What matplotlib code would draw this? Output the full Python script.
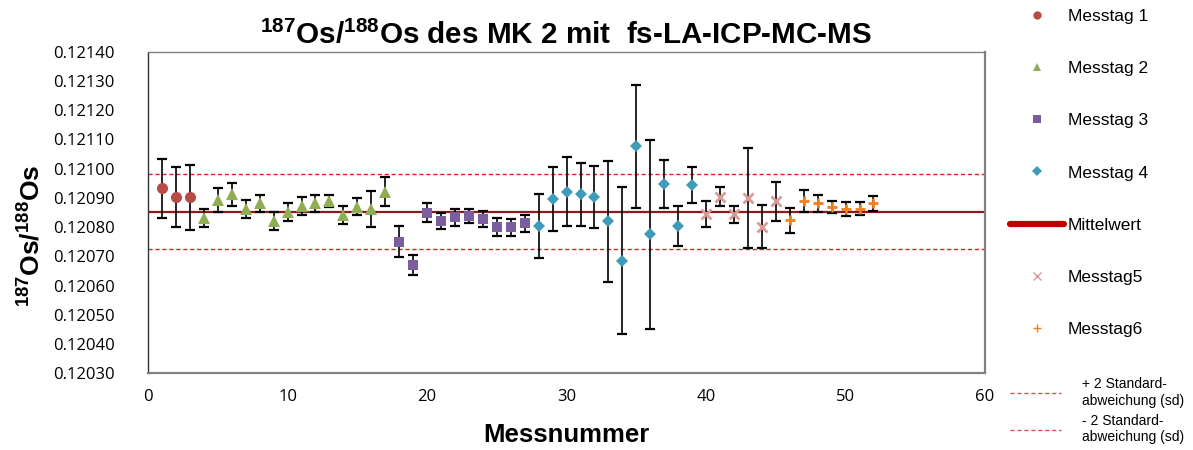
# coding: utf-8
"""187Os/188Os of MK 2 measured with fs-LA-ICP-MC-MS."""

import numpy as np
from matplotlib import pyplot as plt
from matplotlib.lines import Line2D

# Data
day1_x = [1, 2, 3]
day1_y = [0.120933, 0.120902, 0.120902]
day1_err = [0.000101, 0.000102, 0.000112]

day2_x = [4, 5, 6, 7, 8, 9, 10, 11, 12, 13, 14, 15, 16, 17]
day2_y = [0.120832, 0.120893, 0.120912, 0.120862, 0.120881, 0.120821, 0.120851,
          0.120873, 0.120881, 0.120890, 0.120841, 0.120870, 0.120862, 0.120921]
day2_err = [0.000030, 0.000042, 0.000040, 0.000030, 0.000030, 0.000030, 0.000030,
            0.000030, 0.000030, 0.000020, 0.000030, 0.000030, 0.000060, 0.000050]

day3_x = [18, 19, 20, 21, 22, 23, 24, 25, 26, 27]
day3_y = [0.120750, 0.120670, 0.120849, 0.120820, 0.120834, 0.120838, 0.120829,
          0.120801, 0.120799, 0.120813]
day3_err = [0.000053, 0.000033, 0.000033, 0.000027, 0.000029, 0.000025, 0.000027,
            0.000030, 0.000029, 0.000030]

day4_x = [28, 29, 30, 31, 32, 33, 34, 35, 36, 37, 38, 39]
day4_y = [0.120804, 0.120897, 0.120921, 0.120913, 0.120903, 0.120820, 0.120685,
          0.121077, 0.120776, 0.120947, 0.120804, 0.120943]
day4_err = [0.000110, 0.000110, 0.000118, 0.000108, 0.000105, 0.000206, 0.000252,
            0.000210, 0.000323, 0.000083, 0.000067, 0.000062]

day5_x = [40, 41, 42, 43, 44, 45]
day5_y = [0.120844, 0.120904, 0.120844, 0.120899, 0.120801, 0.120889]
day5_err = [0.000045, 0.000032, 0.000029, 0.000170, 0.000074, 0.000067]

day6_x = [46, 47, 48, 49, 50, 51, 52]
day6_y = [0.120824, 0.120890, 0.120881, 0.120869, 0.120861, 0.120863, 0.120882]
day6_err = [0.000043, 0.000038, 0.000030, 0.000022, 0.000024, 0.000023, 0.000026]

mean_value = 0.120853
two_sd = 0.000128

# Fonts
narrow = ["Liberation Sans", "DejaVu Sans"]
plt.rcParams["font.family"] = ["Open Sans", "DejaVu Sans"]
plt.rcParams["mathtext.fontset"] = "custom"
plt.rcParams["mathtext.rm"] = "Liberation Sans"
plt.rcParams["mathtext.bf"] = "Liberation Sans:bold"

# Figure
fig = plt.figure(figsize=(11.93, 4.5), dpi=100)
ax = fig.add_axes([0.1241, 0.1704, 0.7016, 0.7147])

# Reference lines
ax.axhline(mean_value, color="#8B1A1A", lw=1.6, zorder=1)
ax.axhline(mean_value + two_sd, color="#E02020", lw=1, ls=(0, (3, 2)), zorder=1)
ax.axhline(mean_value - two_sd, color="#E02020", lw=1, ls=(0, (3, 2)), zorder=1)

# Series
series = [
    (day1_x, day1_y, day1_err, "o", "#B94A48", "Messtag 1", 8),
    (day2_x, day2_y, day2_err, "^", "#8FAE53", "Messtag 2", 8),
    (day3_x, day3_y, day3_err, "s", "#7B5E9E", "Messtag 3", 7),
    (day4_x, day4_y, day4_err, "D", "#3E9CB8", "Messtag 4", 6.5),
    (day5_x, day5_y, day5_err, "x", "#D99A98", "Messtag5", 6.5),
    (day6_x, day6_y, day6_err, "+", "#F07F1F", "Messtag6", 7.5),
]
for x, y, err, marker, color, label, ms in series:
    ax.errorbar(x, y, yerr=err, fmt="none", ecolor="black", elinewidth=1.2,
                capsize=3.5, capthick=1.6, zorder=2)
    mew = 2 if marker in ("x", "+") else 0
    ax.plot(x, y, marker, color=color, ms=ms, mew=mew, zorder=3)

# Axes
ax.set_xlim(0, 60)
ax.set_ylim(0.12030, 0.12140)
ax.set_xticks(np.arange(0, 61, 10))
ax.set_yticks(np.linspace(0.12030, 0.12140, 12))
ax.yaxis.set_major_formatter(plt.FormatStrFormatter("%.5f"))
ax.tick_params(axis="y", length=0, pad=24, labelsize=12)
ax.tick_params(axis="x", length=0, pad=11, labelsize=12)

for side in ("top", "right", "bottom"):
    ax.spines[side].set_color("#808080")
ax.spines["left"].set_color("#333333")
ax.spines["bottom"].set_linewidth(1.6)
ax.spines["right"].set_linewidth(1.6)
ax.spines["top"].set_linewidth(1.0)
ax.spines["left"].set_linewidth(1.0)

# Labels
fig.text(0.4745, 0.922,
         r"$\mathbf{^{187}}$Os/$\mathbf{^{188}}$Os des MK 2 mit  fs-LA-ICP-MC-MS",
         ha="center", va="center", fontsize=21.3, fontweight="bold", family=narrow)
fig.text(0.4745, 0.033, "Messnummer", ha="center", va="center",
         fontsize=18.5, fontweight="bold", family=narrow)
fig.text(0.026, 0.475, r"$\mathbf{^{187}}$Os/$\mathbf{^{188}}$Os", ha="center",
         va="center", rotation=90, fontsize=19, fontweight="bold", family=narrow)

# Legend
handles = []
for x, y, err, marker, color, label, ms in series[:4]:
    handles.append(Line2D([], [], ls="none", marker=marker, color=color,
                          ms=ms * 0.75, mew=0, label=label))
handles.append(Line2D([], [], color="#C00000", lw=4.5, label="Mittelwert",
                      solid_capstyle="round"))
for x, y, err, marker, color, label, ms in series[4:]:
    handles.append(Line2D([], [], ls="none", marker=marker, color=color,
                          ms=ms * 0.8, mew=1, label=label))
fig.legend(handles=handles, loc="upper left",
           bbox_to_anchor=(1007 / 1193, 1.0 - 5 / 450), frameon=False,
           prop=dict(family=narrow, size=12.5), handlelength=3.1,
           handletextpad=0.2, labelspacing=2.14, borderpad=0.2,
           borderaxespad=0)

sd_handles = [
    Line2D([], [], color="#E05050", lw=1, ls=(0, (3, 2)),
           label="+ 2 Standard-\nabweichung (sd)"),
    Line2D([], [], color="#E05050", lw=1, ls=(0, (3, 2)),
           label="- 2 Standard-\nabweichung (sd)"),
]
fig.legend(handles=sd_handles, loc="lower left",
           bbox_to_anchor=(1010 / 1193, 6 / 450), frameon=False,
           prop=dict(family=narrow, size=10), handlelength=3.7,
           handletextpad=1.5, labelspacing=0.45, borderpad=0,
           borderaxespad=0)

fig.savefig("out.png", dpi=100)
